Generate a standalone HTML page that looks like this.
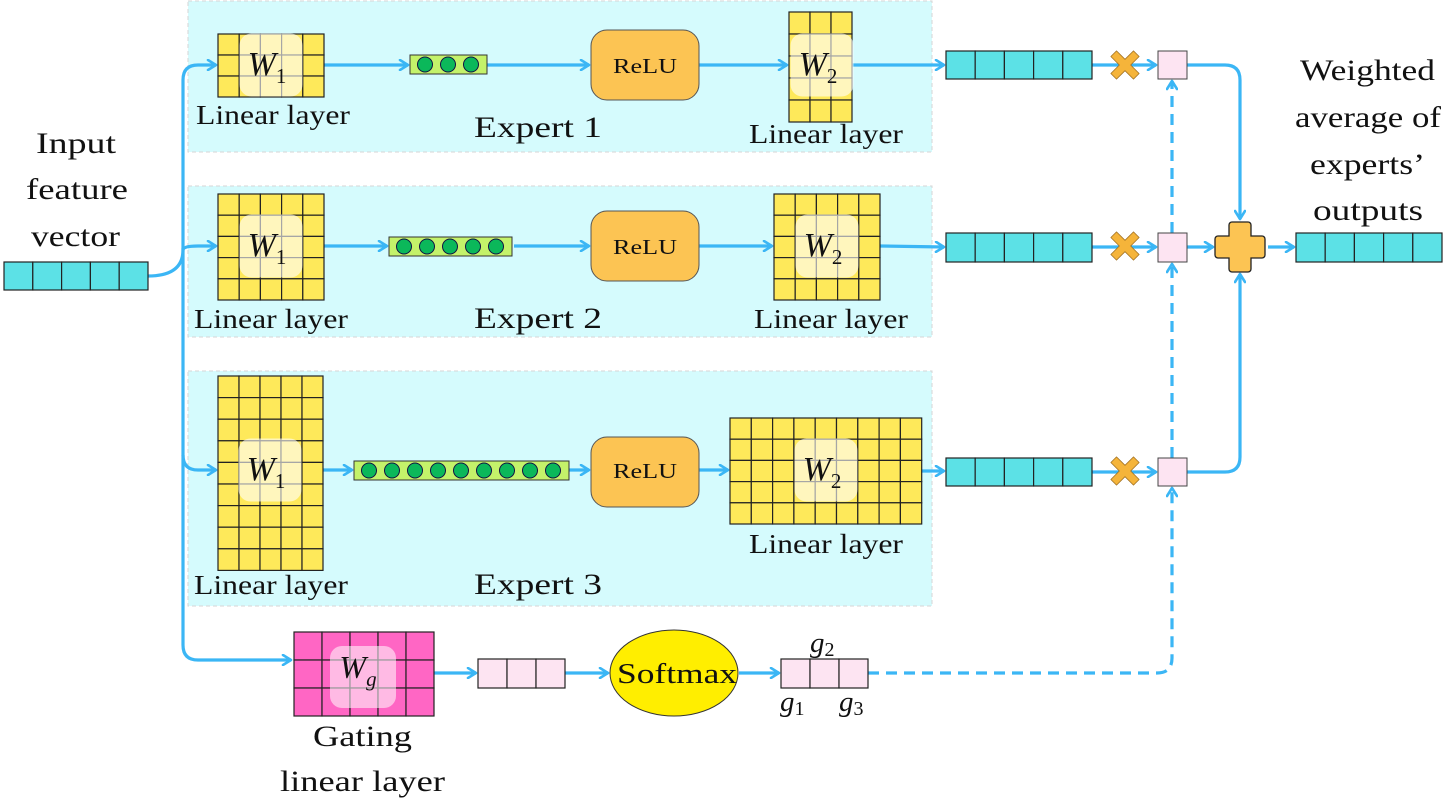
<!DOCTYPE html>
<html><head><meta charset="utf-8"><style>
html,body{margin:0;padding:0;background:#fff}
svg{display:block}
text{font-family:"Liberation Serif",serif;fill:#111}
</style></head><body>
<svg id="s" width="1456" height="812" viewBox="0 0 1456 812" xmlns="http://www.w3.org/2000/svg">
<defs>
<marker id="a" viewBox="0 0 12 12" refX="10" refY="6" markerWidth="12" markerHeight="12" markerUnits="userSpaceOnUse" orient="auto">
<path d="M2,1 L10,6 L2,11" fill="none" stroke="#3bb6f5" stroke-width="2.6" stroke-linecap="round" stroke-linejoin="round"/>
</marker>
</defs>
<g id="bg">
<rect x="188" y="1" width="744" height="151" fill="#d5fbfd" stroke="#d6d6d6" stroke-dasharray="4,3"/>
<rect x="188" y="186" width="744" height="151" fill="#d5fbfd" stroke="#d6d6d6" stroke-dasharray="4,3"/>
<rect x="188" y="371" width="744" height="235" fill="#d5fbfd" stroke="#d6d6d6" stroke-dasharray="4,3"/>
</g>
<g id="lines" fill="none" stroke="#3bb6f5" stroke-width="3.2">
<path d="M148,276 Q183,276 183,250 L183,80 Q183,65 198,65 L216,65" marker-end="url(#a)"/>
<path d="M183,250 Q183,246 198,246 L216,246" marker-end="url(#a)"/>
<path d="M183,248 L183,455 Q183,470 198,470 L216,470" marker-end="url(#a)"/>
<path d="M183,455 L183,645 Q183,660 198,660 L291,660" marker-end="url(#a)"/>
<path d="M324,65 L408,65" marker-end="url(#a)"/><path d="M486,65 L589,65" marker-end="url(#a)"/>
<path d="M699,65 L787,65" marker-end="url(#a)"/><path d="M852,65 L944,65" marker-end="url(#a)"/>
<path d="M324,246 L387,246" marker-end="url(#a)"/><path d="M514,246 L589,246" marker-end="url(#a)"/>
<path d="M699,246 L772,246" marker-end="url(#a)"/><path d="M880,246 L944,247" marker-end="url(#a)"/>
<path d="M323,470 L352,470" marker-end="url(#a)"/><path d="M561,470 L589,470" marker-end="url(#a)"/>
<path d="M699,470 L728,470" marker-end="url(#a)"/><path d="M922,471 L944,471" marker-end="url(#a)"/>
<path d="M1092,65 L1156,65" marker-end="url(#a)"/><path d="M1092,247 L1156,247" marker-end="url(#a)"/><path d="M1092,472 L1156,472" marker-end="url(#a)"/>
<path d="M1187,65 L1225,65 Q1240,65 1240,80 L1240,219" marker-end="url(#a)"/>
<path d="M1187,472 L1225,472 Q1240,472 1240,457 L1240,274" marker-end="url(#a)"/>
<path d="M1187,247 L1213,247" marker-end="url(#a)"/><path d="M1268,247 L1294,247" marker-end="url(#a)"/>
<path d="M433,673 L476,673" marker-end="url(#a)"/><path d="M565,673 L608,673" marker-end="url(#a)"/><path d="M739,673 L779,673" marker-end="url(#a)"/>
<g stroke-dasharray="11,7">
<path d="M868,673 L1157,673 Q1172,673 1172,658 L1172,488" marker-end="url(#a)"/>
<path d="M1172,458 L1172,264" marker-end="url(#a)"/>
<path d="M1172,233 L1172,81" marker-end="url(#a)"/>
</g>
</g>
<g id="g"></g>
<g font-size="27" lengthAdjust="spacingAndGlyphs">
<text x="36" y="153" font-size="30" textLength="80" lengthAdjust="spacingAndGlyphs">Input</text>
<text x="26" y="199" font-size="30" textLength="102" lengthAdjust="spacingAndGlyphs">feature</text>
<text x="31" y="246" font-size="30" textLength="89" lengthAdjust="spacingAndGlyphs">vector</text>
<text x="196" y="124" textLength="154" lengthAdjust="spacingAndGlyphs">Linear layer</text>
<text x="749" y="143" textLength="154" lengthAdjust="spacingAndGlyphs">Linear layer</text>
<text x="194" y="328" textLength="154" lengthAdjust="spacingAndGlyphs">Linear layer</text>
<text x="754" y="328" textLength="154" lengthAdjust="spacingAndGlyphs">Linear layer</text>
<text x="194" y="594" textLength="154" lengthAdjust="spacingAndGlyphs">Linear layer</text>
<text x="749" y="553" textLength="154" lengthAdjust="spacingAndGlyphs">Linear layer</text>
<text x="474" y="137" font-size="30" textLength="128" lengthAdjust="spacingAndGlyphs">Expert 1</text>
<text x="474" y="328" font-size="30" textLength="128" lengthAdjust="spacingAndGlyphs">Expert 2</text>
<text x="474" y="594" font-size="30" textLength="128" lengthAdjust="spacingAndGlyphs">Expert 3</text>
<text x="313" y="746" font-size="30" textLength="99" lengthAdjust="spacingAndGlyphs">Gating</text>
<text x="280" y="791" font-size="30" textLength="165" lengthAdjust="spacingAndGlyphs">linear layer</text>
<text x="1300" y="80" font-size="30" textLength="135" lengthAdjust="spacingAndGlyphs">Weighted</text>
<text x="1295" y="127" font-size="30" textLength="146" lengthAdjust="spacingAndGlyphs">average of</text>
<text x="1310" y="174" font-size="30" textLength="115" lengthAdjust="spacingAndGlyphs">experts’</text>
<text x="1313" y="220" font-size="30" textLength="110" lengthAdjust="spacingAndGlyphs">outputs</text>
<text x="613" y="73" font-size="21" textLength="64" lengthAdjust="spacingAndGlyphs">ReLU</text>
<text x="613" y="254" font-size="21" textLength="64" lengthAdjust="spacingAndGlyphs">ReLU</text>
<text x="613" y="478" font-size="21" textLength="64" lengthAdjust="spacingAndGlyphs">ReLU</text>
</g>
</svg>
<script>
var g=document.getElementById('g'),h='';
function grid(x,y,c,r,w,hh,fill){for(var i=0;i<c;i++)for(var j=0;j<r;j++)h+='<rect x="'+(x+i*w)+'" y="'+(y+j*hh)+'" width="'+w+'" height="'+hh+'" fill="'+fill+'" stroke="#222" stroke-width="1.2"/>';}
function hl(cx,cy,w,hh,lab,sub){h+='<rect x="'+(cx-w/2)+'" y="'+(cy-hh/2)+'" width="'+w+'" height="'+hh+'" rx="12" fill="#fff" fill-opacity="0.6"/>';
h+='<text x="'+(cx-4)+'" y="'+(cy+10)+'" text-anchor="middle" font-size="34" font-style="italic">'+lab+'<tspan font-size="21" font-style="normal" dy="8">'+sub+'</tspan></text>';}
function vec(x,y,n,w,hh,fill){grid(x,y,n,1,w,hh,fill);}
function green(x,y,n){h+='<rect x="'+x+'" y="'+y+'" width="'+(n*23+8)+'" height="19" fill="#c4f26a" stroke="#333" stroke-width="1"/>';for(var i=0;i<n;i++)h+='<circle cx="'+(x+15+i*23)+'" cy="'+(y+9.5)+'" r="7.5" fill="#0bb85a" stroke="#114" stroke-width="1"/>';}
function relu(y){h+='<rect x="591" y="'+y+'" width="108" height="70" rx="16" fill="#fcc453" stroke="#555" stroke-width="1"/>';}
function cross(cx,cy){h+='<g transform="translate('+cx+','+cy+') rotate(45)"><path d="M-4,-16 H4 V-4 H16 V4 H4 V16 H-4 V4 H-16 V-4 H-4 Z" fill="#f5b43a" stroke="#a07020" stroke-width="0.8" stroke-linejoin="round"/></g>';}
var Y='#fee95a';
grid(218,34,5,3,21.2,21,Y);hl(271,65,63,63,'W','1');
grid(218,194,5,5,21.2,21.2,Y);hl(271,246,63,63,'W','1');
grid(218,376,5,9,21,21.6,Y);hl(270,470,63,63,'W','1');
grid(789,12,3,5,21,22,Y);hl(822,65,63,63,'W','2');
grid(774,194,5,5,21.2,21.2,Y);hl(827,246,63,63,'W','2');
grid(730,418,9,5,21.3,21.2,Y);hl(826,470,63,63,'W','2');
green(410,55,3);green(389,237,5);green(354,461,9);
relu(30);relu(211);relu(437);
vec(4,262,5,28.8,28,'#5ce1e6');
vec(946,51,5,29.2,28,'#5ce1e6');vec(946,233,5,29.2,29,'#5ce1e6');vec(946,458,5,29.2,28,'#5ce1e6');
vec(1296,233,5,29.2,29,'#5ce1e6');
cross(1125,65);cross(1125,246);cross(1125,471);
h+='<rect x="1158" y="51" width="29" height="28" fill="#fde4f2" stroke="#444"/>';
h+='<rect x="1158" y="233" width="29" height="29" fill="#fde4f2" stroke="#444"/>';
h+='<rect x="1158" y="458" width="29" height="28" fill="#fde4f2" stroke="#444"/>';
h+='<path d="M1232,222 h16 a3,3 0 0 1 3,3 v11 h11 a3,3 0 0 1 3,3 v16 a3,3 0 0 1 -3,3 h-11 v11 a3,3 0 0 1 -3,3 h-16 a3,3 0 0 1 -3,-3 v-11 h-11 a3,3 0 0 1 -3,-3 v-16 a3,3 0 0 1 3,-3 h11 v-11 a3,3 0 0 1 3,-3z" fill="#fcc453" stroke="#222" stroke-width="1.3"/>';
grid(294,632,5,3,28,28,'#ff66c4');
h+='<rect x="330" y="646" width="66" height="62" rx="12" fill="#fff" fill-opacity="0.55"/>';
h+='<text x="358" y="678" text-anchor="middle" font-size="32" font-style="italic">W<tspan font-size="21" dy="8">g</tspan></text>';
vec(478,659,3,29,29,'#fde4f2');
h+='<ellipse cx="674" cy="673" rx="64" ry="43" fill="#ffee00" stroke="#333" stroke-width="1"/><text x="617" y="683" font-size="29" textLength="120" lengthAdjust="spacingAndGlyphs">Softmax</text>';
vec(781,659,3,29,29,'#fde4f2');
h+='<text x="810" y="652" font-size="29" font-style="italic">g<tspan font-size="20" font-style="normal" dy="4">2</tspan></text>';
h+='<text x="780" y="711" font-size="29" font-style="italic">g<tspan font-size="20" font-style="normal" dy="4">1</tspan></text>';
h+='<text x="839" y="711" font-size="29" font-style="italic">g<tspan font-size="20" font-style="normal" dy="4">3</tspan></text>';
g.innerHTML=h;
</script>
</body></html>
